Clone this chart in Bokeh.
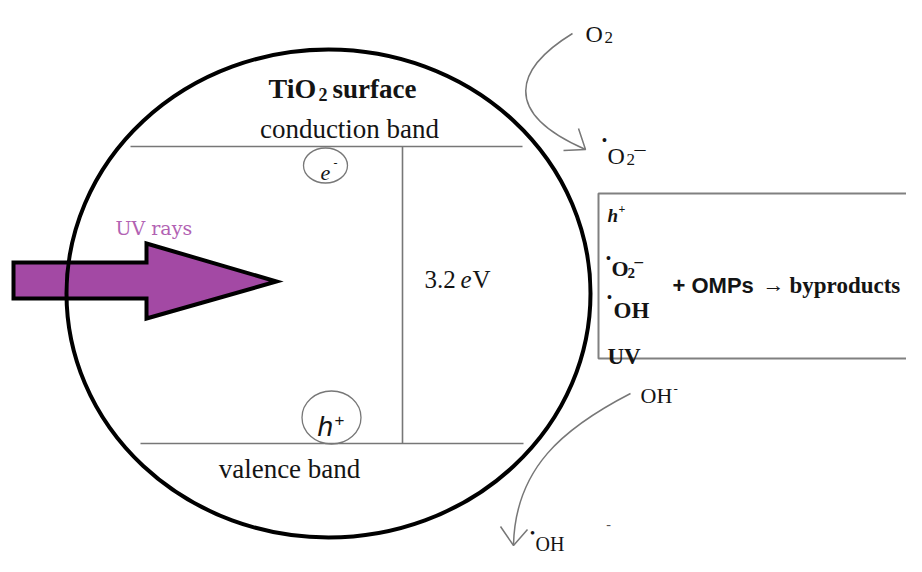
from bokeh.plotting import figure
from bokeh.models import Range1d
from bokeh.core.properties import value
from bokeh.embed import file_html
from bokeh.resources import INLINE

# ---- content (texts) ----
title_parts = ["TiO", "2", "surface"]
band_labels = ["conduction band", "valence band"]
gap_parts = ["3.2", "e", "V"]
uv_label = "UV rays"
box_species = ["h", "O", "OH", "UV"]
reaction = ["+ OMPs", "→", "byproducts"]
carrier_e = ["e", "-"]
carrier_h = ["h", "+"]

# ---- layout (pixel coordinates of the picture) ----
circle = dict(cx=328, cy=293, w=524, h=488)
cb_line = ([130, 522], [146, 146])
vb_line = ([140, 523], [443, 443])
gap_line = ([402, 402], [146, 443])
arrow_x = [13, 146, 146, 276, 146, 146, 13]
arrow_y = [262, 262, 243, 281, 318, 298, 298]

SERIF = "Liberation Serif"
SANS = "Liberation Sans"
INK = "#141414"
GREY = "#777777"

p = figure(width=906, height=556, x_range=Range1d(0, 906), y_range=Range1d(556, 0),
           output_backend="svg", toolbar_location=None, min_border=0,
           x_axis_type=None, y_axis_type=None)
p.grid.visible = False
p.outline_line_color = None
p.background_fill_color = "white"
p.border_fill_color = "white"


def t(x, y, s, size, font=SERIF, style="normal", color=INK, align="left", base="alphabetic"):
    p.text(x=[x], y=[y], text=[s], text_font=value(font), text_font_size=f"{size}px",
           text_font_style=style, text_color=color, text_align=align, text_baseline=base)


def dot(x, y, size=14, style="bold"):
    t(x, y, "•", size, style=style, align="center", base="middle")


# UV arrow (drawn below the circle)
p.patch(arrow_x, arrow_y, fill_color="#a349a4", line_color="black", line_width=4, line_join="miter")

# big TiO2 particle
p.ellipse(x=[circle["cx"]], y=[circle["cy"]], width=[circle["w"]], height=[circle["h"]],
          fill_color=None, line_color="black", line_width=4)

# bands
p.line(*cb_line, line_color=GREY, line_width=1.6)
p.line(*vb_line, line_color=GREY, line_width=1.6)
p.line(*gap_line, line_color=GREY, line_width=1.6)

# carriers
p.ellipse(x=[325], y=[165], width=[44], height=[35], fill_color=None, line_color=GREY, line_width=1.3)
p.ellipse(x=[331], y=[417], width=[59], height=[53], fill_color=None, line_color=GREY, line_width=1.3)
t(320, 172, carrier_e[0], 22, style="italic")
t(333, 162, carrier_e[1], 12)
t(317, 426, carrier_h[0], 28, font=SANS, style="italic")
t(334, 419, carrier_h[1], 17, font=SANS)

# titles
t(268, 88, title_parts[0], 28, style="bold")
t(318, 94, title_parts[1], 18, style="bold")
t(332, 88, title_parts[2], 27, style="bold")
t(349, 128, band_labels[0], 27, align="center")
t(289, 468, band_labels[1], 27, align="center")

# band gap
t(424, 279, gap_parts[0], 25)
t(460, 279, gap_parts[1], 25, style="italic")
t(472, 279, gap_parts[2], 25)

# UV label
t(115, 227, uv_label, 19, font="DejaVu Serif", color="#b262b3")

# O2 -> superoxide
t(585, 33, "O", 24)
t(604, 37, "2", 17)
p.bezier(x0=[572], y0=[33], x1=[585], y1=[149], cx0=[515], cy0=[68], cx1=[500], cy1=[112],
         line_color=GREY, line_width=1.5)
p.line([578, 585, 563], [128, 149, 150], line_color=GREY, line_width=1.5)
dot(604, 140)
t(607, 155, "O", 24)
t(626, 159, "2", 17)
t(634, 148, "–", 22)

# reaction box
p.quad(left=[598], right=[960], top=[193], bottom=[358], fill_color=None,
       line_color="#808080", line_width=2)
t(607, 215, box_species[0], 19, style="bold italic")
t(618, 208, "+", 12, style="bold")
dot(608, 258)
t(611, 268, box_species[1], 22, style="bold")
t(627, 272, "2", 15, style="bold")
t(634, 261, "–", 17, style="bold")
dot(609, 297)
t(613, 310, box_species[2], 23, style="bold")
t(607, 356, box_species[3], 23, style="bold")
t(672, 285, reaction[0], 22, font=SANS, style="bold")
t(762, 284, reaction[1], 22, font=SANS)
t(789, 285, reaction[2], 23, style="bold")

# hydroxide -> hydroxyl radical
t(640, 395, "OH", 22)
t(673, 388, "-", 13)
p.bezier(x0=[630], y0=[393], x1=[513], y1=[544], cx0=[562], cy0=[428], cx1=[515], cy1=[468],
         line_color=GREY, line_width=1.5)
p.line([500, 513, 527], [526, 545, 529], line_color=GREY, line_width=1.5)
dot(532, 532, 13)
t(535, 543, "OH", 20)
t(608, 523, "-", 14, color="#555555", align="center", base="middle")

open("out.html", "w").write(file_html(p, INLINE))
